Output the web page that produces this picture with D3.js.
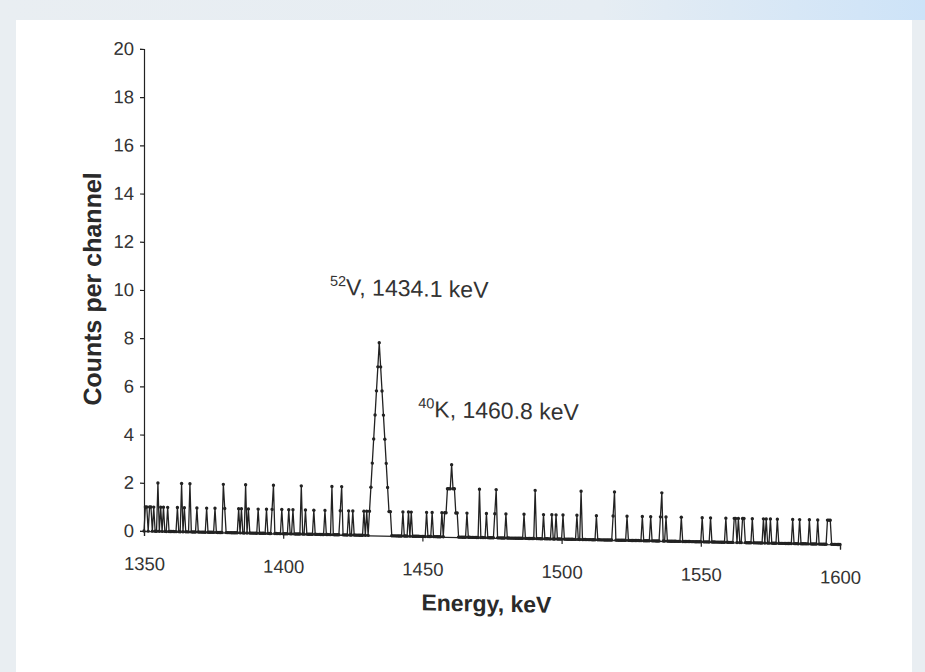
<!DOCTYPE html>
<html>
<head>
<meta charset="utf-8">
<script src="https://cdn.jsdelivr.net/npm/d3@7"></script>
<style>
body { margin: 0; background: #e9eef2; }
svg { display: block; }
text { font-family: "Liberation Sans", Arial, sans-serif; }
</style>
</head>
<body>
<svg id="chart" width="925" height="672"></svg>
<script>
// channels (keV) that hold counts; every other channel is 0
var hitEnergy = [1350.5, 1351, 1352, 1352.5, 1353.5, 1355, 1356, 1357, 1358.5, 1362,
    1363.5, 1364.5, 1366.5, 1369, 1372.5, 1375.5, 1378.5, 1379, 1384, 1385,
    1386.5, 1387.5, 1391, 1394, 1396, 1396.5, 1399.5, 1402, 1403.5, 1406.5,
    1408, 1411, 1415, 1417.5, 1420.5, 1421, 1423.5, 1425, 1429, 1430,
    1431, 1431.5, 1432, 1432.5, 1433, 1433.5, 1434, 1434.5, 1435, 1435.5,
    1436, 1436.5, 1437, 1437.5, 1438, 1438.5,
    1443, 1445, 1446, 1451.5, 1453.5, 1457, 1458, 1458.5, 1459, 1459.5,
    1460, 1460.5, 1461, 1461.5, 1462, 1462.5,
    1466, 1470.5, 1473, 1476, 1476.5, 1480, 1486.5, 1490.5, 1493.5, 1496.5,
    1498, 1500.5, 1505.5, 1507, 1512.5, 1518.5, 1519, 1523.5, 1529, 1532,
    1535.5, 1536, 1537.5, 1543, 1550.5, 1553.5, 1559, 1562, 1562.5, 1563.5,
    1565, 1565.5, 1568.5, 1572.5, 1573.5, 1575, 1577.5, 1583, 1585.5, 1589,
    1592, 1595.5, 1596, 1596.5];
var hitCounts = [1, 1, 1, 1, 1, 2, 1, 1, 1, 1,
    2, 1, 2, 1, 1, 1, 2, 1, 1, 1,
    2, 1, 1, 1, 1, 2, 1, 1, 1, 2,
    1, 1, 1, 2, 1, 2, 1, 1, 1, 1,
    1, 2, 3, 4, 5, 6, 7, 8, 7, 6,
    5, 4, 3, 2, 1, 1,
    1, 1, 1, 1, 1, 1, 1, 1, 2, 2,
    2, 3, 2, 2, 1, 1,
    1, 2, 1, 1, 2, 1, 1, 2, 1, 1,
    1, 1, 1, 2, 1, 1, 2, 1, 1, 1,
    1, 2, 1, 1, 1, 1, 1, 1, 1, 1,
    1, 1, 1, 1, 1, 1, 1, 1, 1, 1,
    1, 1, 1, 1];
var channelWidth = 0.5;
var energyRange = [1350, 1600];

var xTicks = [1350, 1400, 1450, 1500, 1550, 1600];
var yTicks = [0, 2, 4, 6, 8, 10, 12, 14, 16, 18, 20];

var peakIsotope = ["52", "40"];
var peakLabel = ["V, 1434.1 keV", "K, 1460.8 keV"];
var peakLabelEnergy = [1416.8, 1448.5];
var peakLabelCount = [9.95, 4.95];

var svg = d3.select("#chart");
var margin = {left: 144, top: 49};
var width = 696, height = 482;

// page frame
var defs = svg.append("defs");
var grad = defs.append("linearGradient").attr("id", "topband");
grad.append("stop").attr("offset", "0%").attr("stop-color", "#e9eef2");
grad.append("stop").attr("offset", "65%").attr("stop-color", "#e6edf3");
grad.append("stop").attr("offset", "100%").attr("stop-color", "#cde3f8");
svg.append("rect").attr("width", 925).attr("height", 672).attr("fill", "#e9eef2");
svg.append("rect").attr("width", 925).attr("height", 20).attr("fill", "url(#topband)");
svg.append("rect").attr("x", 16).attr("y", 20).attr("width", 896).attr("height", 652).attr("fill", "#fff");

// the scan is a little skewed: right end of the x axis sits lower
var g = svg.append("g")
    .attr("transform", "translate(" + margin.left + "," + margin.top + ") skewY(1.11)");

var x = d3.scaleLinear().domain(energyRange).range([0, width]);
var y = d3.scaleLinear().domain([0, 20]).range([height, 0]);

var lookup = new Map(hitEnergy.map(function(e, i) { return [e, hitCounts[i]]; }));
var data = d3.range(energyRange[0], energyRange[1] + channelWidth / 2, channelWidth).map(function(e) {
    return {e: e, c: lookup.get(e) || 0};
});

var xAxis = g.append("g")
    .attr("transform", "translate(0," + height + ")")
    .call(d3.axisBottom(x).tickValues(xTicks).tickSize(5).tickPadding(21).tickFormat(d3.format("d")));
var yAxis = g.append("g")
    .call(d3.axisLeft(y).tickValues(yTicks).tickSize(4).tickPadding(6));

[xAxis, yAxis].forEach(function(a) {
    a.selectAll("path, line").attr("stroke", "#222").attr("stroke-width", 1.2);
    a.selectAll("text").attr("fill", "#333").style("font-size", "18.5px");
});

var line = d3.line()
    .x(function(d) { return x(d.e); })
    .y(function(d) { return y(d.c); });

g.append("path")
    .datum(data)
    .attr("fill", "none")
    .attr("stroke", "#222")
    .attr("stroke-width", 1.3)
    .attr("d", line);

g.selectAll("circle.pt")
    .data(data)
    .enter()
    .append("circle")
    .attr("class", "pt")
    .attr("cx", function(d) { return x(d.e); })
    .attr("cy", function(d) { return y(d.c); })
    .attr("r", 1.7)
    .attr("fill", "#222");

// peak labels
peakLabel.forEach(function(t, i) {
    var txt = g.append("text")
        .attr("x", x(peakLabelEnergy[i]))
        .attr("y", y(peakLabelCount[i]))
        .attr("fill", "#333")
        .style("font-size", "23px");
    txt.append("tspan").text(peakIsotope[i]).style("font-size", "14.5px").attr("dy", -9);
    txt.append("tspan").text(t).attr("dy", 9);
});

// axis titles
g.append("text")
    .attr("x", x(1473))
    .attr("y", height + 74)
    .attr("text-anchor", "middle")
    .attr("fill", "#2a2a2a")
    .style("font-size", "23px")
    .style("font-weight", "bold")
    .text("Energy, keV");

g.append("text")
    .attr("transform", "translate(-43," + y(10) + ") rotate(-90)")
    .attr("text-anchor", "middle")
    .attr("fill", "#2a2a2a")
    .style("font-size", "25px")
    .style("font-weight", "bold")
    .text("Counts per channel");
</script>
</body>
</html>
